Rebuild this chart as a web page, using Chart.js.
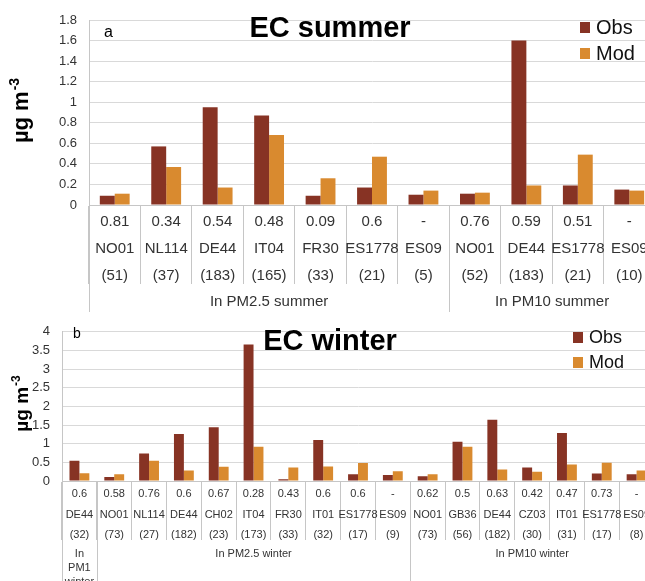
<!DOCTYPE html>
<html>
<head>
<meta charset="utf-8">
<script src="https://cdn.jsdelivr.net/npm/chart.js@4/dist/chart.umd.min.js"></script>
<style>
  html, body { margin: 0; padding: 0; background: #fff; width: 645px; height: 581px; overflow: hidden; }
  canvas { position: absolute; left: 0; }
  #summer { top: 0; }
  #winter { top: 312px; }
</style>
</head>
<body>
<canvas id="summer" width="670" height="312"></canvas>
<canvas id="winter" width="670" height="269"></canvas>
<script>
// ---- Panel a: EC summer ----
const summerStations = ['NO01', 'NL114', 'DE44', 'IT04', 'FR30', 'ES1778', 'ES09', 'NO01', 'DE44', 'ES1778', 'ES09'];
const summerCorr = ['0.81', '0.34', '0.54', '0.48', '0.09', '0.6', '-', '0.76', '0.59', '0.51', '-'];
const summerCounts = [51, 37, 183, 165, 33, 21, 5, 52, 183, 21, 10];
const summerObs = [0.09, 0.57, 0.95, 0.87, 0.09, 0.17, 0.10, 0.11, 1.60, 0.19, 0.15];
const summerMod = [0.11, 0.37, 0.17, 0.68, 0.26, 0.47, 0.14, 0.12, 0.19, 0.49, 0.14];
const summerGroupLabels = [['In PM2.5 summer'], ['In PM10 summer']];
const summerGroupSizes = [7, 4];
const summerYTicks = { min: 0, max: 1.8, step: 0.2 };

// ---- Panel b: EC winter ----
const winterStations = ['DE44', 'NO01', 'NL114', 'DE44', 'CH02', 'IT04', 'FR30', 'IT01', 'ES1778', 'ES09',
                        'NO01', 'GB36', 'DE44', 'CZ03', 'IT01', 'ES1778', 'ES09'];
const winterCorr = ['0.6', '0.58', '0.76', '0.6', '0.67', '0.28', '0.43', '0.6', '0.6', '-',
                    '0.62', '0.5', '0.63', '0.42', '0.47', '0.73', '-'];
const winterCounts = [32, 73, 27, 182, 23, 173, 33, 32, 17, 9, 73, 56, 182, 30, 31, 17, 8];
const winterObs = [0.54, 0.11, 0.74, 1.26, 1.44, 3.66, 0.05, 1.10, 0.18, 0.16,
                   0.13, 1.05, 1.64, 0.36, 1.29, 0.20, 0.18];
const winterMod = [0.21, 0.18, 0.54, 0.28, 0.38, 0.92, 0.36, 0.39, 0.48, 0.26,
                   0.18, 0.92, 0.31, 0.25, 0.44, 0.49, 0.28];
const winterGroupLabels = [['In', 'PM1', 'winter'], ['In PM2.5 winter'], ['In PM10 winter']];
const winterGroupSizes = [1, 9, 7];
const winterYTicks = { min: 0, max: 4, step: 0.5 };

const seriesNames = ['Obs', 'Mod'];
const seriesColors = ['#873324', '#D98A2F'];

const LINE = '#c6c6c6';
const GRID = '#d9d9d9';
const TEXT = '#333333';

// Draws titles, legend, axis title, group labels and group dividers
const panelDecor = {
  id: 'panelDecor',
  afterDraw(chart, args, o) {
    const { ctx, chartArea: ca } = chart;
    const x = chart.scales.x;
    const H = chart.height;
    const n = chart.data.labels.length;
    const cw = (ca.right - ca.left) / n;
    const edge = i => x.getPixelForValue(i) - cw / 2;
    const px = v => Math.round(v) + 0.5;

    ctx.save();
    ctx.strokeStyle = LINE;
    ctx.lineWidth = 1;

    // left axis line runs down through the label block
    ctx.beginPath();
    ctx.moveTo(px(ca.left), ca.top);
    ctx.lineTo(px(ca.left), H);
    ctx.stroke();

    // group dividers and group captions
    let start = 0;
    o.groupSizes.forEach((size, g) => {
      if (start > 0) {
        ctx.beginPath();
        ctx.moveTo(px(edge(start)), ca.bottom);
        ctx.lineTo(px(edge(start)), H);
        ctx.stroke();
      }
      const cx = (edge(start) + edge(start) + size * cw) / 2;
      ctx.fillStyle = TEXT;
      ctx.font = o.groupFont;
      ctx.textAlign = 'center';
      ctx.textBaseline = 'middle';
      o.groupLabels[g].forEach((line, k) => {
        ctx.fillText(line, cx, o.groupY + k * o.groupLine);
      });
      start += size;
    });

    // panel title
    ctx.fillStyle = '#000';
    ctx.font = 'bold 29px "Liberation Sans", Arial, sans-serif';
    ctx.textAlign = 'center';
    ctx.textBaseline = 'alphabetic';
    ctx.fillText(o.title, o.titleX, o.titleY);

    // panel letter
    ctx.font = o.letterFont;
    ctx.textAlign = 'left';
    ctx.fillText(o.letter, o.letterX, o.letterY);

    // legend
    ctx.font = o.legendFont;
    ctx.textBaseline = 'middle';
    chart.data.datasets.forEach((ds, i) => {
      const yy = o.legendY + i * o.legendGap;
      ctx.fillStyle = ds.backgroundColor;
      ctx.fillRect(o.legendX, yy - 5, 10, 11);
      ctx.fillStyle = '#111';
      ctx.fillText(ds.label, o.legendX + 16, yy + 1);
    });

    // y axis title with superscript
    ctx.translate(o.yTitleX, o.yTitleY);
    ctx.rotate(-Math.PI / 2);
    const s = o.yTitleSize;
    ctx.font = `bold ${s}px "Liberation Sans", Arial, sans-serif`;
    const main = 'µg m';
    const w1 = ctx.measureText(main).width;
    ctx.font = `bold ${Math.round(s * 0.65)}px "Liberation Sans", Arial, sans-serif`;
    const w2 = ctx.measureText('-3').width;
    const x0 = -(w1 + w2) / 2;
    ctx.textAlign = 'left';
    ctx.textBaseline = 'alphabetic';
    ctx.fillStyle = '#000';
    ctx.font = `bold ${s}px "Liberation Sans", Arial, sans-serif`;
    ctx.fillText(main, x0, 0);
    ctx.font = `bold ${Math.round(s * 0.65)}px "Liberation Sans", Arial, sans-serif`;
    ctx.fillText('-3', x0 + w1 + 1, -s * 0.42);
    ctx.restore();
  }
};

function buildPanel(id, p) {
  const labels = p.stations.map((st, i) => [p.corr[i], st, '(' + p.counts[i] + ')']);
  return new Chart(document.getElementById(id), {
    type: 'bar',
    data: {
      labels,
      datasets: [
        { label: seriesNames[0], data: p.obs, backgroundColor: seriesColors[0] },
        { label: seriesNames[1], data: p.mod, backgroundColor: seriesColors[1] }
      ]
    },
    options: {
      responsive: false,
      animation: false,
      devicePixelRatio: 1,
      layout: { padding: { top: p.top, right: p.right, left: 0, bottom: 0 } },
      datasets: { bar: { categoryPercentage: p.catPct, barPercentage: 1, borderWidth: 0 } },
      plugins: {
        legend: { display: false },
        tooltip: { enabled: false },
        panelDecor: p.decor
      },
      scales: {
        x: {
          afterFit: s => { s.height = p.xHeight; },
          grid: {
            offset: true, drawOnChartArea: false, drawTicks: true,
            tickLength: p.tickLen, tickColor: LINE, color: LINE
          },
          border: { display: true, color: LINE },
          ticks: {
            autoSkip: false, maxRotation: 0, minRotation: 0,
            padding: p.tickPad, color: TEXT,
            font: { family: '"Liberation Sans", Arial, sans-serif', size: p.xFont, lineHeight: p.xLine }
          }
        },
        y: {
          min: p.yTicks.min, max: p.yTicks.max,
          afterFit: s => { s.width = p.yWidth; },
          grid: { color: GRID, drawTicks: false },
          border: { display: true, color: LINE },
          ticks: {
            stepSize: p.yTicks.step, padding: 12, color: TEXT,
            callback: v => String(parseFloat(Number(v).toFixed(2))),
            font: { family: '"Liberation Sans", Arial, sans-serif', size: 13 }
          }
        }
      }
    },
    plugins: [panelDecor]
  });
}

buildPanel('summer', {
  stations: summerStations, corr: summerCorr, counts: summerCounts,
  obs: summerObs, mod: summerMod, yTicks: summerYTicks,
  top: 20, right: 15, yWidth: 89, xHeight: 107, catPct: 0.58,
  tickLen: 79, tickPad: -75, xFont: 15, xLine: 1.77,
  decor: {
    groupLabels: summerGroupLabels, groupSizes: summerGroupSizes,
    groupFont: '15px "Liberation Sans", Arial, sans-serif', groupY: 302, groupLine: 15,
    title: 'EC summer', titleX: 330, titleY: 37,
    letter: 'a', letterX: 104, letterY: 37, letterFont: '16px "Liberation Sans", Arial, sans-serif',
    legendX: 580, legendY: 27, legendGap: 26, legendFont: '20px "Liberation Sans", Arial, sans-serif',
    yTitleX: 28, yTitleY: 111, yTitleSize: 22
  }
});

buildPanel('winter', {
  stations: winterStations, corr: winterCorr, counts: winterCounts,
  obs: winterObs, mod: winterMod, yTicks: winterYTicks,
  top: 13, right: 16, yWidth: 62, xHeight: 100, catPct: 0.57,
  tickLen: 59, tickPad: -56, xFont: 11, xLine: 1.86,
  decor: {
    groupLabels: winterGroupLabels, groupSizes: winterGroupSizes,
    groupFont: '11px "Liberation Sans", Arial, sans-serif', groupY: 242, groupLine: 14,
    title: 'EC winter', titleX: 330, titleY: 38,
    letter: 'b', letterX: 73, letterY: 26, letterFont: '14px "Liberation Sans", Arial, sans-serif',
    legendX: 573, legendY: 25, legendGap: 25, legendFont: '18px "Liberation Sans", Arial, sans-serif',
    yTitleX: 28, yTitleY: 92, yTitleSize: 19
  }
});
</script>
</body>
</html>
